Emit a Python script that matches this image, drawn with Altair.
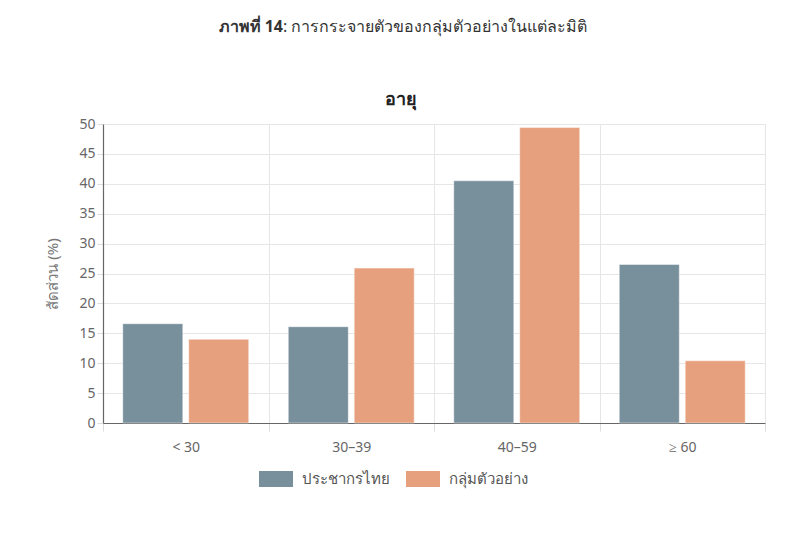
import altair as alt
import pandas as pd

categories = ["< 30", "30–39", "40–59", "≥ 60"]
series_names = ["ประชากรไทย", "กลุ่มตัวอย่าง"]
thai_pop = [16.6, 16.1, 40.5, 26.5]
sample = [14.0, 25.9, 49.4, 10.4]
colors = ["#788f9c", "#e6a07e"]

rows = []
for c, a, b in zip(categories, thai_pop, sample):
    rows.append({"cat": c, "series": series_names[0], "value": a})
    rows.append({"cat": c, "series": series_names[1], "value": b})
df = pd.DataFrame(rows)

FONT = "Noto Sans"

bars = alt.Chart(df).mark_bar(stroke="white", strokeOpacity=0.45, strokeWidth=1).encode(
    x=alt.X("cat:N", sort=categories, title=None,
            scale=alt.Scale(paddingInner=0, paddingOuter=0),
            axis=alt.Axis(tickBand="extent", labelAngle=0, labelFontSize=14, labelColor="#666",
                          labelFont=FONT, labelPadding=9, domainColor="#666", domainWidth=1.2,
                          tickColor="#ddd", tickSize=8, grid=True, gridColor="#e6e6e6")),
    xOffset=alt.XOffset("series:N", sort=series_names,
                        scale=alt.Scale(paddingInner=0.09, paddingOuter=0.3)),
    y=alt.Y("value:Q", title="สัดส่วน (%)",
            scale=alt.Scale(domain=[0, 50]),
            axis=alt.Axis(values=list(range(0, 55, 5)), labelFontSize=14, labelColor="#666",
                          labelFont=FONT, titleFont=FONT, titleFontSize=15, titleColor="#777",
                          titleFontWeight="normal", titlePadding=18,
                          domainColor="#666", domainWidth=1.2, tickColor="#ddd", tickSize=6,
                          gridColor="#e6e6e6")),
    color=alt.Color("series:N", sort=series_names,
                    scale=alt.Scale(domain=series_names, range=colors),
                    legend=alt.Legend(title=None, orient="none", direction="horizontal",
                                      legendX=156, legendY=338,
                                      symbolType="M-1,-0.47H1V0.47H-1Z", symbolSize=1156,
                                      symbolStrokeWidth=0, symbolOpacity=1,
                                      labelFontSize=15, labelColor="#555", labelFont=FONT,
                                      labelOffset=9, columnPadding=16)),
)

head_bold = alt.Chart(pd.DataFrame({"t": ["ภาพที่ 14"]})).mark_text(
    align="right", baseline="middle", fontSize=16, fontWeight="bold", font=FONT, color="#333"
).encode(text="t:N", x=alt.value(180), y=alt.value(-97))

head_norm = alt.Chart(pd.DataFrame({"t": [": การกระจายตัวของกลุ่มตัวอย่างในแต่ละมิติ"]})).mark_text(
    align="left", baseline="middle", fontSize=16, font=FONT, color="#333"
).encode(text="t:N", x=alt.value(180), y=alt.value(-97))

panel_title = alt.Chart(pd.DataFrame({"t": ["อายุ"]})).mark_text(
    align="center", baseline="middle", fontSize=18, fontWeight="bold", font=FONT, color="#222"
).encode(text="t:N", x=alt.value(298), y=alt.value(-24))

chart = alt.layer(bars, head_bold, head_norm, panel_title).properties(
    width=662, height=299,
    autosize=alt.AutoSizeParams(type="none"),
    padding={"left": 95, "top": 116, "right": 27, "bottom": 100},
).configure_view(stroke=None)

chart.save("out.html", embed_options={"renderer": "svg", "actions": False})
